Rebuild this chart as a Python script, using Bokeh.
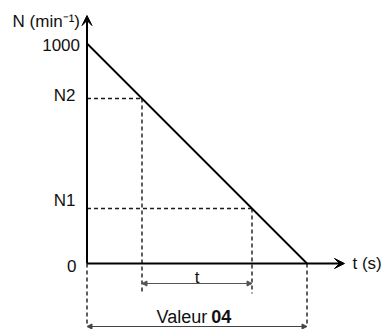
from bokeh.plotting import figure
from bokeh.models import Range1d, Arrow, VeeHead, NormalHead
from bokeh.core.properties import value
from bokeh.embed import file_html
from bokeh.resources import INLINE

# ---- data ----
t_ramp = [0, 10]          # time (arbitrary units): start, stop
n_ramp = [1000, 0]        # speed (min^-1)
n_levels = [250, 750]     # N1, N2
t_levels = [7.5, 2.5]     # times at which N1, N2 are reached
y_labels = ["0", "N1", "N2", "1000"]
y_label_values = [0, 250, 750, 1000]
y_axis_title = "N (min\u207b\u00b9)"
x_axis_title = "t (s)"
span_label = "t"
total_label = ["Valeur", "04"]

# ---- layout helpers (pixel scale of the drawing) ----
PX_X = 22.0     # px per time unit
PX_Y = 0.22     # px per min^-1
W, H = 383, 329
X0_PX, Y0_PX = 86.5, 263.0  # origin inside the canvas

def dx(px):
    return px / PX_X

def dy(px):
    return px / PX_Y

p = figure(width=W, height=H,
           x_range=Range1d(-X0_PX / PX_X, (W - X0_PX) / PX_X),
           y_range=Range1d(-(H - Y0_PX) / PX_Y, Y0_PX / PX_Y),
           x_axis_type=None, y_axis_type=None,
           toolbar_location=None, output_backend="svg",
           min_border=0, outline_line_color=None)
p.grid.visible = False
p.background_fill_color = "white"
p.border_fill_color = "white"

FONT = value("Liberation Sans")
DASH = "4 3"
DCOL = "#1a1a1a"
TCOL = "#111111"

x_tip = dx(344 - X0_PX)

# axes with arrows
p.add_layout(Arrow(end=VeeHead(size=10, fill_color="black", line_color="black"),
                   x_start=0, y_start=0, x_end=0, y_end=dy(Y0_PX - 15),
                   line_width=2, line_color="black"))
p.add_layout(Arrow(end=VeeHead(size=10, fill_color="black", line_color="black"),
                   x_start=0, y_start=0, x_end=x_tip, y_end=0,
                   line_width=2, line_color="black"))

# dashed guides
for tv, nv in zip(t_levels, n_levels):
    p.line([0, tv], [nv, nv], line_dash=DASH, line_width=1.4, line_color=DCOL)
    p.line([tv, tv], [nv, -dy(30)], line_dash=DASH, line_width=1.4, line_color=DCOL)
for tv in t_ramp:
    p.line([tv, tv], [0, -dy(61)], line_dash=DASH, line_width=1.4, line_color=DCOL)

# ramp
p.line(t_ramp, n_ramp, line_width=1.8, line_color="black")

# t span arrow
p.add_layout(Arrow(start=NormalHead(size=5, fill_color="#555555", line_color="#555555"),
                   end=NormalHead(size=5, fill_color="#555555", line_color="#555555"),
                   x_start=min(t_levels), y_start=-dy(20), x_end=max(t_levels), y_end=-dy(20),
                   line_width=1.2, line_color="#555555"))
p.text(x=[sum(t_levels) / 2], y=[-dy(14)], text=[span_label], text_font=FONT,
       text_font_size="17px", text_align="center", text_baseline="alphabetic",
       text_color=TCOL)

# total arrow
p.add_layout(Arrow(start=NormalHead(size=5, fill_color="#444444", line_color="#444444"),
                   end=NormalHead(size=5, fill_color="#444444", line_color="#444444"),
                   x_start=t_ramp[0], y_start=-dy(63), x_end=t_ramp[1], y_end=-dy(63),
                   line_width=1.2, line_color="#444444"))
xs = dx(208.8 - X0_PX)
p.text(x=[xs], y=[-dy(53)], text=[total_label[0]], text_font=FONT,
       text_font_size="18px", text_align="right", text_baseline="alphabetic",
       text_color=TCOL, x_offset=-2)
p.text(x=[xs], y=[-dy(53)], text=[total_label[1]], text_font=FONT,
       text_font_size="18px", text_font_style="bold", text_align="left",
       text_baseline="alphabetic", text_color=TCOL, x_offset=2)

# y labels
p.text(x=[0] * len(y_labels), y=y_label_values, text=y_labels, text_font=FONT,
       text_font_size="17px", text_align="right", text_baseline="middle",
       text_color=TCOL, x_offset=[-10.5, -11.5, -11.5, -7],
       y_offset=[2, -8, -3, 1])

# axis titles
p.text(x=[0], y=[dy(Y0_PX - 21)], text=[y_axis_title], text_font=FONT,
       text_font_size="17px", text_align="right", text_baseline="middle",
       text_color=TCOL, x_offset=-7)
p.text(x=[x_tip], y=[0], text=[x_axis_title], text_font=FONT,
       text_font_size="17px", text_align="left", text_baseline="middle",
       text_color=TCOL, x_offset=8)

open("out.html", "w").write(file_html(p, INLINE))
